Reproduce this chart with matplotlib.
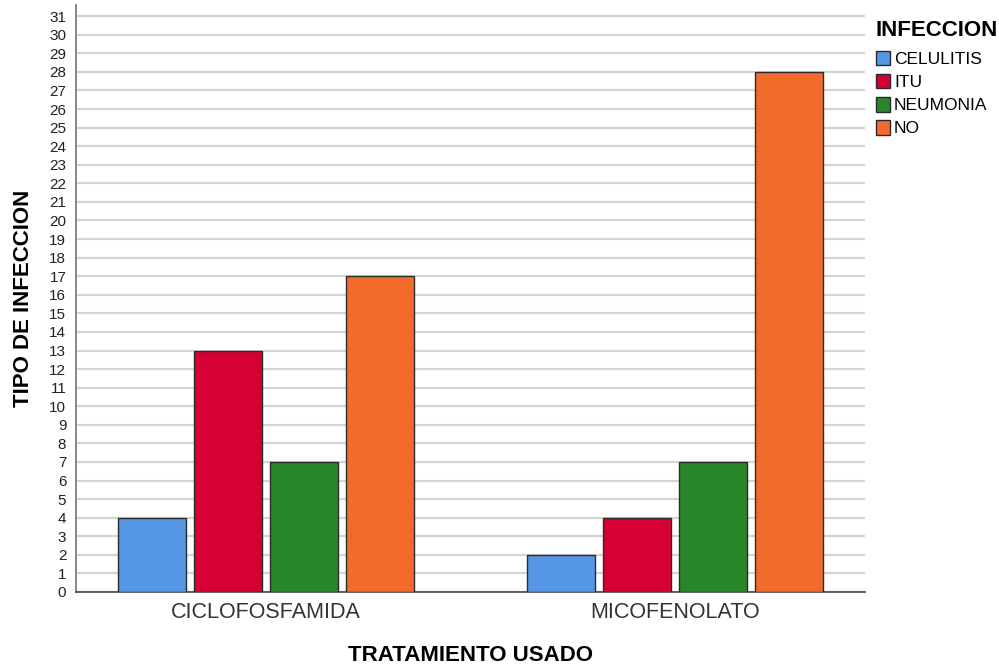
import matplotlib
matplotlib.use("Agg")
import matplotlib.pyplot as plt
import numpy as np

plt.rcParams['font.family'] = ['Liberation Sans', 'DejaVu Sans']

treatments = ["CICLOFOSFAMIDA", "MICOFENOLATO"]
infections = ["CELULITIS", "ITU", "NEUMONIA", "NO"]
values = {
    "CELULITIS": [4, 2],
    "ITU": [13, 4],
    "NEUMONIA": [7, 7],
    "NO": [17, 28],
}
colors = ["#5596e5", "#d60032", "#2a862a", "#f26a2c"]

fig = plt.figure(figsize=(9.99, 6.69), dpi=100)
ax = fig.add_axes([0.0761, 0.1151, 0.866 - 0.0761, 0.9925 - 0.1151])

x = np.arange(len(treatments))
width = 0.1664
step = 0.186
for i, inf in enumerate(infections):
    ax.bar(x + (i - 1.5) * step, values[inf], width=width, color=colors[i],
           edgecolor="#2b2b2b", linewidth=1.0, label=inf, zorder=3)

ax.set_xlim(-0.465, 1.466)
ax.set_ylim(0, 31.6)
ax.set_yticks(range(0, 32))
ax.set_xticks(x)
ax.set_xticklabels(treatments, fontsize=15.5, color="#333333")
ax.tick_params(axis="y", length=0, labelsize=11, pad=7, labelcolor="#222222")
ax.tick_params(axis="x", length=0, pad=7)
ax.yaxis.grid(True, color="#d4d4d4", linewidth=1.6, zorder=0)
ax.set_axisbelow(True)
for s in ["top", "right"]:
    ax.spines[s].set_visible(False)
ax.spines["left"].set_color("#888888")
ax.spines["left"].set_linewidth(1.4)
ax.spines["bottom"].set_color("#444444")
ax.spines["bottom"].set_linewidth(1.2)

ax.set_xlabel("TRATAMIENTO USADO", fontsize=16, fontweight="bold", labelpad=16)
ax.set_ylabel("TIPO DE INFECCION", fontsize=16, fontweight="bold", labelpad=11)

leg = ax.legend(title="INFECCION", loc="upper left", bbox_to_anchor=(0.998, 0.995),
                frameon=False, fontsize=12.5, handlelength=0.8, handleheight=0.9,
                handletextpad=0.25, labelspacing=0.4, borderaxespad=0.3,
                title_fontproperties={"weight": "bold", "size": 16})
leg._legend_box.align = "left"
leg._legend_box.sep = 7

fig.savefig("out.png", dpi=100)
